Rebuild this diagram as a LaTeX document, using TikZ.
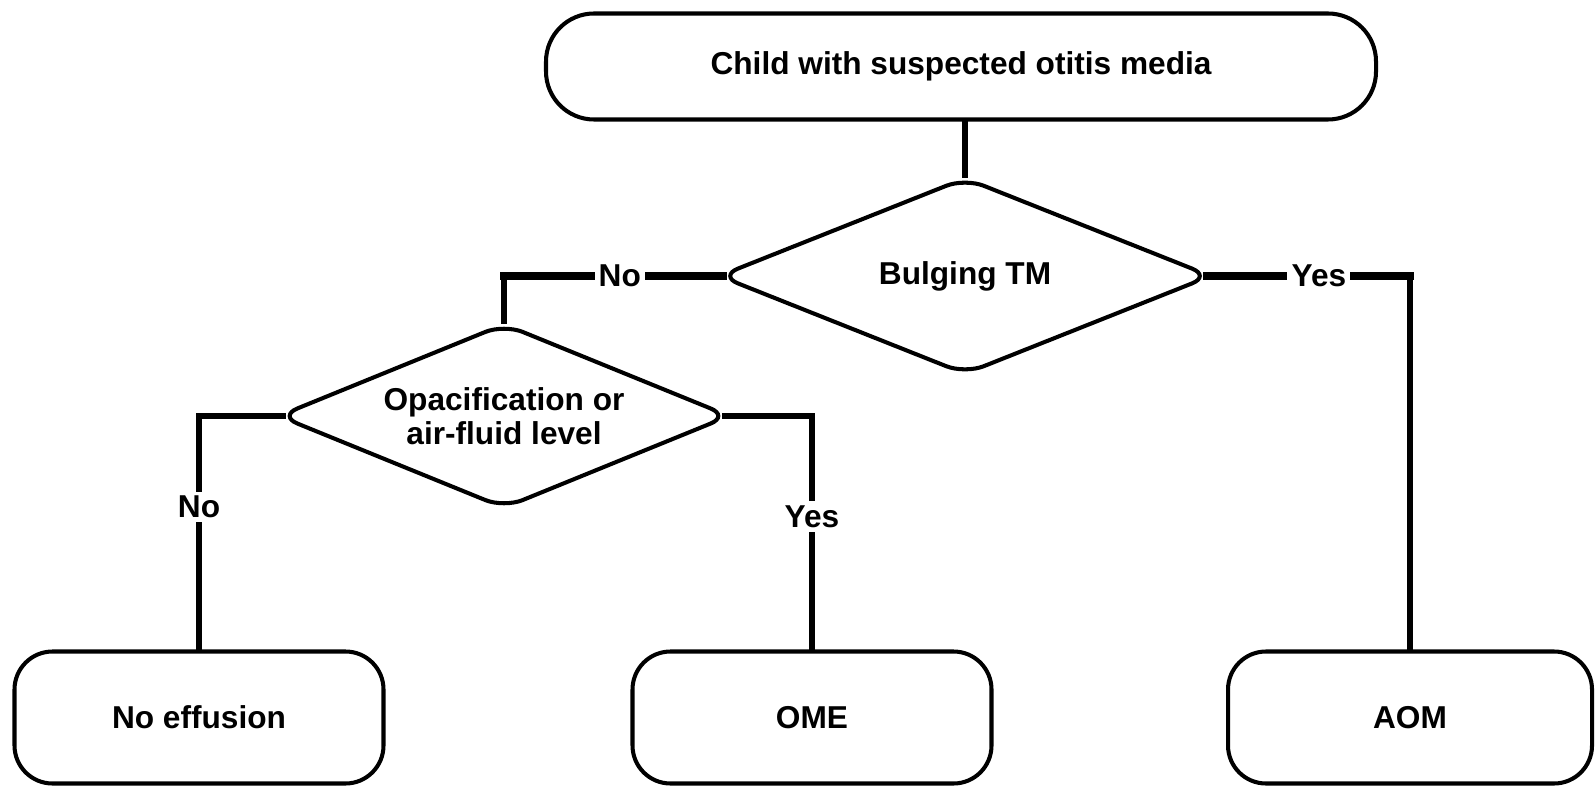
\documentclass[tikz,border=0pt]{standalone}
\usepackage{fontspec}
\setmainfont{Liberation Sans}
\usetikzlibrary{shapes.geometric}

\begin{document}
\begin{tikzpicture}[x=0.1mm,y=-0.1mm,
    every node/.style={font=\fontsize{9}{9.5}\selectfont\bfseries},
    start node/.style={draw,line width=1.15pt,rounded corners=4.8mm,minimum height=10.6mm},
    test node/.style={draw,diamond,aspect=2.5,inner sep=0pt,align=center,line width=1.15pt,rounded corners=2mm},
    end node/.style={draw,line width=1.15pt,rounded corners=3.8mm,minimum height=13.2mm},
    wire/.style={line width=1.7pt,line cap=rect},
    bar/.style={line width=2.4pt,line cap=rect},
    tag/.style={fill=white,inner sep=1.2pt}]

            \useasboundingbox (0,0) rectangle (1596,785);

            \node[start node, minimum width=83mm] (child) at (961,66.5) {Child with suspected otitis media};
            \node[test node, minimum width=49.3mm, minimum height=19.7mm] (bulge) at (965,276) {Bulging TM};
            \node[test node, minimum width=45.2mm, minimum height=18.5mm] (opac) at (504,416) {Opacification or\\air-fluid level};
            \node[end node, minimum width=36.9mm] (none) at (199,717.5) {No effusion};
            \node[end node, minimum width=35.9mm] (ome) at (812,717.5) {OME};
            \node[end node, minimum width=36.4mm] (aom) at (1410,717.5) {AOM};

            \coordinate (nobend) at (bulge.west -| opac.north);
            \coordinate (yesbend) at (bulge.east -| aom.north);

            \draw[wire] (bulge.north |- child.south) -- (bulge.north);
            \draw[bar] ([xshift=0.6mm]bulge.west) -- node[tag, pos=0.47]{No} (nobend);
            \draw[wire] (nobend) -- (opac.north);
            \draw[bar] ([xshift=-0.6mm]bulge.east) -- node[tag, pos=0.55]{Yes} (yesbend);
            \draw[wire] (yesbend) -- (aom.north);
            \draw[wire] ([xshift=0.7mm]opac.west) -| node[tag, pos=0.695]{No} (none.north);
            \draw[wire] ([xshift=-0.7mm]opac.east) -| node[tag, pos=0.715]{Yes} (ome.north);

            ;
        \end{tikzpicture}
\end{document}
